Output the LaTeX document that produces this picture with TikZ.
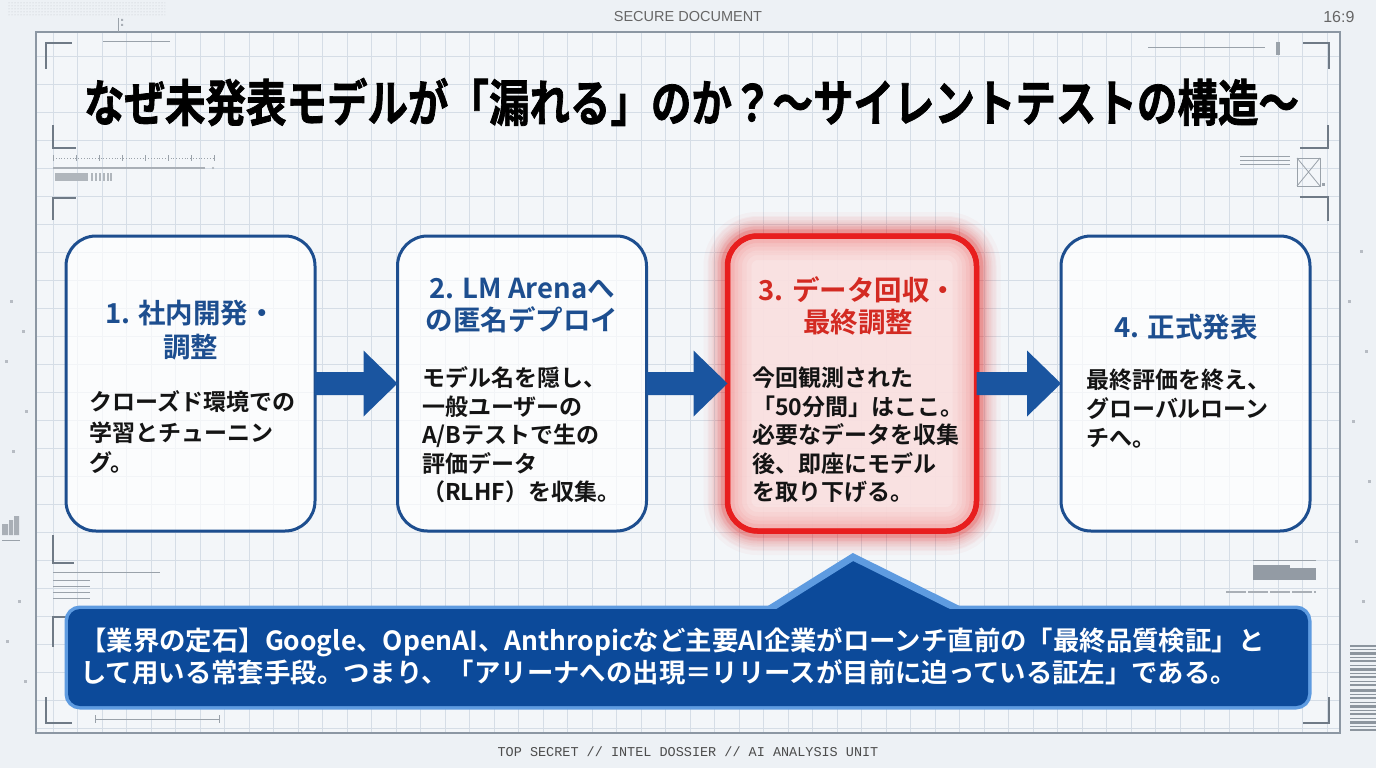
\documentclass[tikz,border=0pt]{standalone}
\usepackage{fontspec}
\setmainfont{Noto Sans CJK JP}[BoldFont={Noto Sans CJK JP Bold}]
\newfontfamily\headfont{Noto Sans CJK JP Bold}[FakeBold=1.6]
\newfontfamily\labelfont{Liberation Sans}
\newfontfamily\codefont{Liberation Mono}
\usetikzlibrary{calc,patterns}
\definecolor{bgc}{HTML}{EDF1F5}
\definecolor{paper}{HTML}{F3F6F9}
\definecolor{gridc}{HTML}{D5DDE6}
\definecolor{framec}{HTML}{8C97A3}
\definecolor{decoc}{HTML}{6F7A86}
\definecolor{navy}{HTML}{1D4E8F}
\definecolor{arrowc}{HTML}{1A55A0}
\definecolor{alert}{HTML}{E81E1E}
\definecolor{alerttext}{HTML}{D32A22}
\definecolor{pinkfill}{HTML}{FAE0E0}
\definecolor{notefill}{HTML}{0C4A9A}
\definecolor{noteedge}{HTML}{5E9BE0}
\tikzset{
  stage/.style={draw=navy, line width=3, rounded corners=30, fill=white, fill opacity=.7,
    minimum width=249, minimum height=295, outer sep=0, inner sep=0},
  alertstage/.style={stage, draw=alert, line width=5, fill=pinkfill, fill opacity=.92,
    preaction={draw=alert, draw opacity=.035, line width=40},
    preaction={draw=alert, draw opacity=.045, line width=32},
    preaction={draw=alert, draw opacity=.06, line width=25},
    preaction={draw=alert, draw opacity=.08, line width=19},
    preaction={draw=alert, draw opacity=.12, line width=13},
    postaction={draw=alert, draw opacity=.03, line width=48},
    postaction={draw=alert, draw opacity=.035, line width=38},
    postaction={draw=alert, draw opacity=.04, line width=29},
    postaction={draw=alert, draw opacity=.05, line width=21},
    postaction={draw=alert, draw opacity=.07, line width=14},
    postaction={draw=alert, line width=5.5}},
  stagetitle/.style={text=navy, align=center, font=\fontsize{27.5}{33}\selectfont\bfseries, inner sep=0},
  stagebody/.style={text=black!92, align=left, anchor=west, font=\fontsize{23}{28.5}\selectfont\bfseries, inner sep=0},
  flow/.style={fill=arrowc},
  deco/.style={draw=decoc, line width=1.5},
  faint/.style={draw=decoc!70, line width=.8},
}
\begin{document}
\begin{tikzpicture}[x=1pt,y=-1pt]
\useasboundingbox (0,0) rectangle (1376,768);
\fill[bgc] (0,0) rectangle (1376,768);
% paper and grid
\fill[paper] (36,32) rectangle (1340,733);
\begin{scope}
\clip (36,32) rectangle (1340,733);
\foreach \i in {0,...,54} {\draw[gridc, line width=.8] ({28.5+24.5*\i},32) -- ++(0,701);}
\foreach \i in {0,...,25} {\draw[gridc, line width=.8] (36,{56+28*\i}) -- ++(1304,0);}
\end{scope}
\draw[framec, line width=1.6] (36,32) rectangle (1340,733);

% top and bottom labels
\node[text=black!60, font=\labelfont\fontsize{14.5}{16}\selectfont] (hdr) at (688,17) {SECURE DOCUMENT};
\node[text=black!60, font=\labelfont\fontsize{16}{18}\selectfont, anchor=east] (ratio) at (1358,17) {16:9};
\node[text=black!70, font=\codefont\fontsize{13.5}{15}\selectfont] (ftr) at (688,752) {TOP SECRET // INTEL DOSSIER // AI ANALYSIS UNIT};

% decorations
\fill[pattern=dots, pattern color=decoc!45] (8,3) rectangle (165,16);
\draw[faint] (118,18) -- (118,32);
\fill[decoc!60] (121,19) rectangle (123,21) (121,24) rectangle (123,26);
\draw[deco] (46,69) -- (46,43) -- (72,43);
\draw[deco] (53,125) -- (53,148) -- (76,148);
\draw[deco] (53,220) -- (53,198) -- (76,198);
\draw[deco] (1329,69) -- (1329,43) -- (1303,43);
\draw[deco] (1328,125) -- (1328,148) -- (1300,148);
\draw[deco] (1328,221) -- (1328,197) -- (1300,197);
\draw[deco] (53,535) -- (53,563) -- (74,563);
\draw[deco] (74,617) -- (53,617) -- (53,647);
\draw[deco] (46,697) -- (46,723) -- (72,723);
\draw[deco] (1329,697) -- (1329,723) -- (1303,723);
\draw[faint, dotted] (53,158) -- (214,158);
\foreach \i in {0,...,7} {\draw[faint] ({53+23*\i},155) -- ++(0,6);}
\draw[decoc!60, line width=1.2] (53,168) -- (205,168);
\fill[decoc!60] (213,168) circle (1.2);
\fill[decoc!55] (55,173) rectangle (88,181);
\foreach \x in {91,95,99,103,107,110} {\fill[decoc!55] (\x,173) rectangle ++(2,8);}
\draw[faint] (103,41) -- (170,41);
\draw[decoc!70, line width=1] (1148,48) -- (1265,48);
\fill[decoc!70] (1276,42) rectangle (1280,55);
\draw[faint] (1297,158) rectangle (1320,186);
\draw[faint] (1297,158) -- (1320,186) (1320,158) -- (1297,186);
\fill[decoc!70] (1322,183) rectangle (1325,186);
\foreach \y in {156,160,164} {\draw[faint, line width=.5] (1240,\y) -- (1290,\y);}
\draw[faint] (95,715) -- (95,723) (95,719) -- (219,719) (219,715) -- (219,723);
\foreach \y in {572,580,586,592,598} {\draw[faint, line width=.5] (53,\y) -- (90,\y);}
\draw[faint, line width=.5] (53,572) -- (160,572);
\fill[decoc!75] (1253,568) rectangle (1316,580);
\fill[decoc!75] (1253,565) rectangle (1290,568);
\draw[faint] (1253,560) -- (1316,560);
\draw[decoc!60, line width=2, dash pattern=on 20pt off 2pt] (1226,592) -- (1316,592);
\foreach \y/\h in {645/2,649/1,652/3,657/1,660/2,665/1,668/3,673/1,676/2,681/1,684/2,689/3,694/1,697/2,702/1,705/3,710/1,713/2,718/1,721/3,726/1,729/2} {\fill[decoc!80] (1350,\y) rectangle ++(26,\h);}
\fill[decoc!60] (2,524) rectangle (8,535) (9,520) rectangle (13,535) (14,516) rectangle (19,535);
\draw[faint] (2,540) -- (20,540);
\foreach \p in {(10,300),(22,330),(5,360),(25,410),(12,450),(18,600),(6,640),(24,680),(1360,250),(1348,300),(1365,350),(1352,420),(1368,480),(1355,540),(1362,600)} {\fill[decoc!50] \p rectangle ++(3,3);}

% title
\node[font=\headfont\fontsize{50}{54}\selectfont, text=black, inner sep=0] (title) at (691.5,102) {\scalebox{.81}[1]{なぜ未発表モデルが「漏れる」のか？〜サイレントテストの構造〜}};

% stages
\node[stage] (b1) at (190.5,383.5) {};
\node[stage] (b2) at (522,383.5) {};
\node[alertstage] (b3) at (852,383.5) {};
\node[stage] (b4) at (1185.5,383.5) {};

% arrows
\foreach \a/\b in {b1/b2, b2/b3, b3/b4} {
  \fill[flow] ($(\a.east)+(0,-11.5)$) -- ($(\b.west)+(-34,-11.5)$) -- ($(\b.west)+(-34,-33)$) -- (\b.west)
    -- ($(\b.west)+(-34,33)$) -- ($(\b.west)+(-34,11.5)$) -- ($(\a.east)+(0,11.5)$) -- cycle;
}

% stage texts
\node[stagetitle, font=\fontsize{27.5}{34}\selectfont\bfseries] (t1) at (190.5,330) {1. 社内開発・\\調整};
\node[stagebody, font=\fontsize{23}{30.5}\selectfont\bfseries] (d1) at (89,432.5) {クローズド環境での\\学習とチューニン\\グ。};
\node[stagetitle, font=\fontsize{27.5}{32}\selectfont\bfseries] (t2) at (522,306) {2. LM Arenaへ\\の匿名デプロイ};
\node[stagebody] (d2) at (422,435) {モデル名を隠し、\\一般ユーザーの\\A/Bテストで生の\\評価データ\\（RLHF）を収集。};
\node[stagetitle, text=alerttext, font=\fontsize{27.5}{32}\selectfont\bfseries] (t3) at (858,306) {3. データ回収・\\最終調整};
\node[stagebody] (d3) at (752,435) {今回観測された\\「50分間」はここ。\\必要なデータを収集\\後、即座にモデル\\を取り下げる。};
\node[stagetitle] (t4) at (1186,327) {4. 正式発表};
\node[stagebody, font=\fontsize{23}{29}\selectfont\bfseries] (d4) at (1086,409) {最終評価を終え、\\グローバルローン\\チへ。};

% callout
\node[draw=noteedge, line width=7, fill=notefill, rounded corners=12, minimum width=1240, minimum height=97, inner sep=0, outer sep=0] (note) at (688,657.5) {};
\coordinate (tip) at ($(b3.south)+(1,26)$);
\filldraw[fill=notefill, draw=noteedge, line width=7, line join=miter] ($(note.north)+(72,6)$) -- (tip |- 0,557) -- ($(note.north)+(282,6)$) -- cycle;
\fill[notefill, rounded corners=12] (note.south west) rectangle (note.north east);
\fill[notefill] ($(note.north)+(78,8)$) -- (tip |- 0,562) -- ($(note.north)+(276,8)$) -- cycle;
\node[anchor=west, text=white, align=left, inner sep=0, font=\fontsize{26.4}{32}\selectfont\bfseries] (notetext) at (80,656) {【業界の定石】Google、OpenAI、Anthropicなど主要AI企業がローンチ直前の「最終品質検証」と\\して用いる常套手段。つまり、「アリーナへの出現＝リリースが目前に迫っている証左」である。};
\end{tikzpicture}
\end{document}
